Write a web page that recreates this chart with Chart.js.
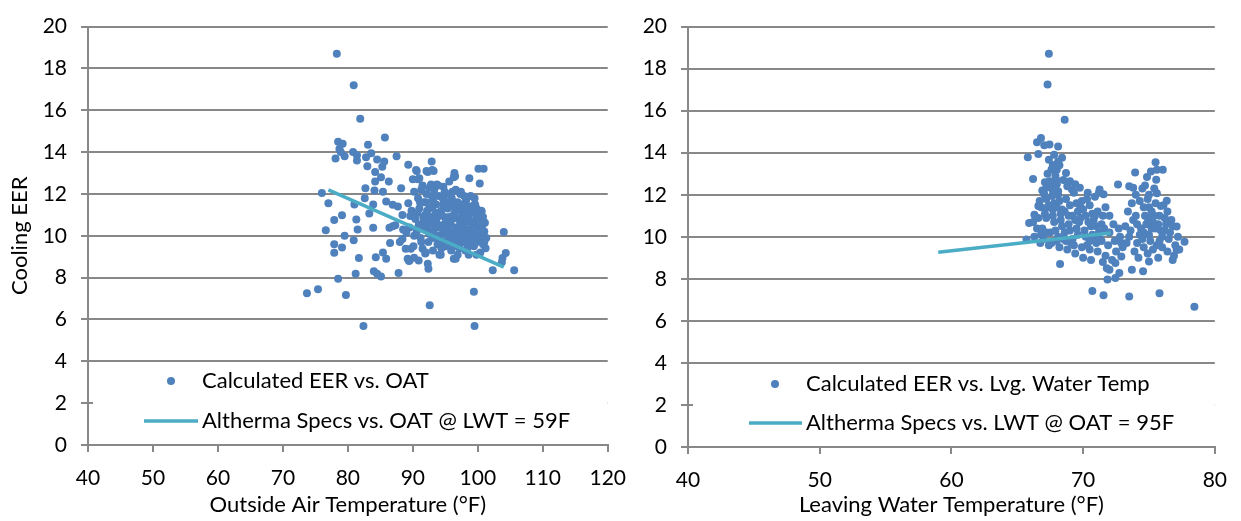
<!DOCTYPE html>
<html>
<head>
<meta charset="utf-8">
<script src="https://cdn.jsdelivr.net/npm/chart.js@4.4.0/dist/chart.umd.min.js"></script>
<style>
  html, body { margin: 0; padding: 0; background: #fff; }
  #wrap { position: relative; width: 1241px; height: 521px; overflow: hidden; }
  canvas { position: absolute; top: 0; }
</style>
</head>
<body>
<div id="wrap">
  <canvas id="oatChart" width="640" height="521" style="left:0"></canvas>
  <canvas id="lwtChart" width="621" height="521" style="left:620px"></canvas>
</div>
<script>
// measured EER against outside air temperature (°F)
const oatPoints = [
  [78.3,18.7],[80.9,17.2],[81.9,15.6],[85.7,14.7],[78.5,14.5],[79.2,14.4],[78.7,14.15],[78.9,14.0],[78.1,13.7],[79.5,13.8],
  [80.8,14.0],[81.4,13.85],[81.4,13.6],[83.1,14.35],[83.6,13.95],[82.8,13.75],[83.0,13.33],[84.5,13.65],[84.2,13.05],[85.6,13.55],
  [85.3,13.3],[87.5,13.8],[89.3,13.4],[90.6,13.1],[92.9,13.55],[93.2,13.1],[92.3,13.05],[85.1,12.8],[84.2,12.6],[86.3,12.6],
  [90.0,12.7],[91.0,12.75],[96.4,13.0],[96.5,12.85],[98.7,12.75],[100.1,13.2],[100.9,13.2],[100.3,12.5],[94.7,12.35],[95.6,12.6],
  [76.0,12.05],[77.0,11.56],[82.7,12.27],[84.1,12.17],[85.4,12.1],[88.2,12.27],[82.6,11.8],[81.0,11.5],[83.9,11.5],[83.3,11.07],
  [85.9,11.64],[86.9,11.48],[87.7,11.4],[88.4,11.0],[79.1,10.98],[77.9,10.75],[81.3,10.78],[81.5,10.3],[83.9,10.38],[86.4,10.38],
  [86.9,10.46],[76.6,10.26],[79.5,10.0],[80.9,9.79],[86.5,9.66],[77.9,9.6],[79.1,9.44],[77.9,9.19],[81.7,8.94],[84.3,8.97],
  [85.4,9.2],[85.9,8.9],[89.2,8.9],[89.5,8.82],[90.9,8.82],[92.3,8.66],[92.4,8.42],[94.3,9.1],[96.6,8.9],[87.8,8.22],
  [84.0,8.3],[84.5,8.19],[85.1,8.06],[81.2,8.19],[78.5,7.95],[102.3,8.35],[105.6,8.35],[104.0,10.18],[104.3,9.18],[103.8,8.94],
  [103.7,8.74],[73.7,7.25],[75.4,7.44],[79.7,7.17],[99.4,7.33],[92.6,6.68],[82.4,5.69],[99.5,5.69],[99.5,11.48],[100.6,11.17],
  [101.1,10.62],[99.8,10.85],[90.5,13.15],[92.1,13.1],[93.0,13.15],[96.3,12.8],[90.8,12.7],[91.5,12.35],[92.8,12.45],[93.7,12.45],
  [97.4,12.1],[96.1,12.1],[100.5,11.2],[100.9,10.65],[100.2,10.95],[96.3,8.9],[94.1,9.1],[89.4,8.8],[90.2,8.95],[91.9,9.15],
  [91.5,9.38],[89.7,9.38],[88.9,9.38],[88.4,9.85],[89.0,10.16],[90.2,10.0],[89.6,10.95],[89.3,11.55],[88.5,10.3],[87.3,10.5],
  [88.0,9.7],
  [90.2,12.1],[90.8,11.8],[91.3,12.2],[91.7,11.6],[92.1,12.0],[92.5,11.3],[92.9,11.9],[93.3,12.2],[93.6,11.5],[94.0,11.9],
  [94.4,11.2],[94.8,11.7],[95.2,12.0],[95.6,11.4],[96.0,11.8],[96.5,11.1],[96.9,11.6],[97.3,12.0],[97.8,11.3],[98.2,11.7],
  [98.6,11.0],[99.0,11.4],[99.5,11.8],[100.0,11.0],[89.8,11.2],[90.4,10.8],[91.0,11.3],[91.5,10.6],[91.9,11.0],[92.3,10.4],
  [92.8,10.9],[93.2,10.2],[93.6,10.7],[94.1,10.0],[94.5,10.5],[94.9,10.9],[95.3,10.2],[95.8,10.6],[96.2,10.0],[96.6,10.4],
  [97.0,10.8],[97.5,10.1],[97.9,10.5],[98.3,9.8],[98.7,10.3],[99.1,10.7],[99.6,10.0],[100.1,10.4],[100.5,9.8],[101.0,10.2],
  [90.6,10.2],[91.2,9.9],[91.8,10.3],[92.4,9.7],[93.0,9.9],[93.8,9.6],[94.3,9.8],[95.0,9.5],[95.5,9.9],[96.1,9.6],
  [96.8,9.8],[97.2,9.4],[97.7,9.7],[98.1,9.3],[98.5,9.6],[99.0,9.9],[99.4,9.5],[99.9,9.7],[100.4,9.2],[100.8,9.6],
  [101.2,9.4],[92.0,11.6],[93.0,11.4],[94.2,11.0],[95.4,11.3],[96.3,11.0],[97.4,11.2],[98.4,10.7],[99.3,11.1],[100.3,10.7],
  [100.8,10.9],[91.5,12.4],[92.6,12.3],[93.9,12.4],[94.9,12.1],[96.6,12.2],[97.6,11.5],[98.9,11.9],[99.8,11.3],[93.4,10.5],
  [94.6,10.3],[95.1,10.7],[96.4,10.2],[97.1,10.4],[98.0,10.0],[98.8,10.1],[99.7,10.6],[100.2,10.0],[100.7,10.5],[101.3,9.9],
  [95.7,11.6],[96.7,11.3],[97.9,11.9],[98.5,11.4],[99.2,10.5],[94.7,11.5],[93.5,11.1],[92.7,10.6],[91.6,10.9],[90.9,10.5],
  [95.9,9.3],[96.9,9.1],[98.6,9.1],[99.8,9.1],[94.4,9.4],[93.1,9.3],[92.0,9.2],[91.3,9.7],[90.1,9.5],[89.5,10.4],
  [97.3,10.6],[98.2,10.8],[99.5,10.3],[100.6,10.1],[101.0,9.7],[95.0,10.1],[96.0,10.8],[97.6,9.9],[98.9,9.7],[99.9,10.9],
  [92.2,11.2],[93.8,10.9],[95.6,10.9],[97.7,11.0],[99.6,11.5],[98.0,10.3],[96.9,10.1],[95.4,10.4],[94.0,10.4],[92.5,10.1],
  [93.7,9.9],[95.8,9.8],[97.0,9.6],[99.3,9.8],[100.9,10.0],[98.4,9.4],[96.4,9.5],[94.8,9.7],[93.5,10.8],[91.8,10.7],
  [97.8,10.8],[99.0,10.2],[100.4,10.6],[98.7,11.2],[96.2,11.4],[94.6,11.8],[93.1,11.7],[91.1,11.6],[90.7,11.1],[95.2,11.6]
];

// spec line, EER vs OAT at LWT = 59F
const oatSpec = [[77.0,12.2],[104.0,8.5]];

// measured EER against leaving water temperature (°F)
const lwtPoints = [
  [67.4,18.71],[67.3,17.24],[68.6,15.57],[65.8,13.78],[66.2,12.75],[66.8,14.7],[66.5,14.5],[66.6,13.94],[67.05,14.36],[67.45,14.39],
  [68.1,14.3],[68.4,13.76],[67.8,13.9],[67.4,13.66],[67.7,13.42],[68.0,13.19],[68.1,13.58],[68.7,13.03],[69.0,12.64],[67.45,12.64],
  [67.95,12.72],[67.2,12.33],[67.05,12.02],[67.65,11.94],[68.1,12.17],[69.15,12.25],[69.75,12.33],[70.35,12.1],[71.25,12.25],[71.55,12.02],
  [72.65,12.49],[73.5,12.41],[73.8,12.33],[73.95,13.06],[74.7,12.44],[74.85,12.85],[75.15,13.11],[75.5,13.55],[75.6,13.19],[76.05,13.19],
  [75.55,12.72],[75.6,12.07],[76.35,11.71],[75.9,11.47],[77.1,10.49],[77.7,9.76],[77.1,9.37],[76.8,8.9],[78.45,6.67],[75.8,7.31],
  [73.5,7.16],[71.55,7.22],[70.7,7.42],[73.7,8.43],[74.55,8.36],[75.0,8.82],[68.25,8.71],[65.9,10.66],[66.3,11.05],[66.6,11.47],
  [65.7,9.87],[66.75,9.71],[71.85,7.97],[72.45,8.04],[72.75,8.28],[72.0,8.43],[72.45,8.75],[72.9,9.06],
  [66.9,12.2],[67.2,11.8],[67.5,12.4],[67.8,11.6],[68.1,12.0],[68.4,11.3],[68.7,11.8],[69.0,11.5],[69.3,12.1],[69.6,11.2],
  [69.9,11.7],[70.2,11.0],[70.5,11.5],[70.8,10.8],[71.1,11.2],[71.4,10.6],[66.6,10.9],[66.9,10.4],[67.2,10.9],[67.5,10.2],
  [67.8,10.7],[68.1,10.0],[68.4,10.5],[68.7,9.8],[69.0,10.3],[69.3,9.6],[69.6,10.1],[69.9,9.5],[70.2,10.0],[70.5,9.4],
  [70.8,9.9],[71.1,9.3],[71.4,9.8],[71.7,9.1],[66.8,11.4],[67.1,11.1],[67.4,11.5],[67.7,11.0],[68.0,11.4],[68.3,10.8],
  [68.6,11.2],[68.9,10.6],[69.2,11.0],[69.5,10.4],[69.8,10.9],[70.1,10.3],[70.4,10.7],[70.7,10.1],[71.0,10.5],[71.3,9.9],
  [71.6,10.4],[67.0,9.9],[67.6,9.7],[68.2,9.5],[68.8,9.4],[69.4,9.2],[70.0,9.0],[70.6,8.9],[71.5,8.8],[71.8,8.5],
  [72.2,8.9],[72.5,9.3],[67.6,13.2],[67.9,12.9],[68.2,13.4],[67.3,13.0],[68.0,12.5],[67.7,12.2],[68.5,12.7],[67.1,12.6],
  [68.8,12.4],[69.4,12.5],[69.8,11.4],[70.3,11.8],[70.9,11.9],[71.2,12.1],[71.7,11.4],[72.0,11.0],[72.3,10.6],[72.0,10.2],
  [71.9,9.6],[72.4,9.8],[72.7,10.4],[72.9,9.7],[66.3,10.0],[66.5,10.4],[66.2,10.7],[66.7,11.7],[67.4,9.6],[68.5,9.9],
  [69.1,9.7],[70.3,9.6],[71.0,9.7],[70.6,10.5],[69.7,10.7],[68.9,11.0],[68.2,11.7],[67.3,11.4],[66.8,10.1],
  [67.9,10.3],[68.6,10.2],[69.4,10.8],[70.0,11.3],[70.9,11.0],[69.2,9.9],[70.5,9.8],[71.2,10.2],[67.7,11.3],[68.3,11.1],
  [69.5,11.6],[70.7,11.1],[71.5,11.0],[68.0,9.8],[67.2,10.2],
  [73.2,10.5],[73.5,10.0],[73.8,10.8],[74.1,9.7],[74.4,10.4],[74.7,11.0],[75.0,10.1],[75.3,10.7],[75.6,9.6],[75.9,10.3],
  [76.2,10.9],[76.5,9.9],[76.8,10.5],[77.0,9.6],[73.4,11.2],[73.7,11.6],[74.0,11.0],[74.3,11.7],[74.6,11.4],[74.9,11.8],
  [75.2,11.2],[75.5,11.6],[75.8,11.0],[76.1,11.5],[76.4,11.2],[76.7,10.8],[73.9,9.3],[74.2,9.0],[74.6,9.5],[74.9,9.2],
  [75.3,9.4],[75.7,9.0],[76.0,9.5],[76.4,9.3],[76.9,9.1],[73.3,9.7],[73.0,9.5],[72.8,10.0],[74.0,12.0],[74.5,12.3],
  [75.0,12.0],[75.4,12.3],[74.8,10.6],[75.5,10.4],[76.0,10.0],[76.3,10.6],[74.3,10.1],[73.6,10.3],[75.1,9.8],[74.5,9.9],
  [76.6,10.2],[77.2,10.0],[77.3,9.4],
  [74.9,10.9],[75.4,11.0],[75.7,10.6],[76.2,10.3],[74.6,10.2],[75.2,10.4],[74.1,10.6],[75.8,9.8],[76.5,10.7],[75.0,11.4]
];

// spec line, EER vs LWT at OAT = 95F
const lwtSpec = [[59.0,9.26],[72.1,10.18]];

const eerTicks = [0, 2, 4, 6, 8, 10, 12, 14, 16, 18, 20];
const oatTicks = [40, 50, 60, 70, 80, 90, 100, 110, 120];
const lwtTicks = [40, 50, 60, 70, 80];

const DOT = '#4f81bd';
const SPEC = '#4bacc6';
const GRID = '#888888';
const FONT = 'Lato, "Open Sans", sans-serif';

const toXY = arr => arr.map(p => ({ x: p[0], y: p[1] }));

// legend drawn inside the plot, on a white panel over the lower gridlines
const insideLegend = {
  id: 'insideLegend',
  afterDatasetsDraw(chart, args, o) {
    const { ctx, chartArea } = chart;
    ctx.save();
    ctx.fillStyle = '#fff';
    ctx.fillRect(chartArea.left + 5, o.top, chartArea.right - chartArea.left - 5, o.bottom - o.top);

    ctx.fillStyle = DOT;
    ctx.beginPath();
    ctx.arc(o.dotX, o.row1, 4, 0, Math.PI * 2);
    ctx.fill();

    ctx.strokeStyle = SPEC;
    ctx.lineWidth = 3.5;
    ctx.beginPath();
    ctx.moveTo(o.lineX0, o.row2);
    ctx.lineTo(o.lineX1, o.row2);
    ctx.stroke();

    ctx.fillStyle = '#000';
    ctx.font = '22px ' + FONT;
    ctx.textBaseline = 'middle';
    ctx.fillText(o.labels[0], o.textX, o.row1);
    ctx.fillText(o.labels[1], o.textX, o.row2);
    ctx.restore();
  }
};

function makeChart(id, cfg) {
  return new Chart(document.getElementById(id), {
    type: 'scatter',
    data: {
      datasets: [
        {
          label: cfg.labels[1],
          data: toXY(cfg.spec),
          showLine: true,
          borderColor: SPEC,
          borderWidth: 3.5,
          pointRadius: 0,
          order: 0
        },
        {
          label: cfg.labels[0],
          data: toXY(cfg.points),
          backgroundColor: DOT,
          borderColor: DOT,
          borderWidth: 0,
          pointRadius: 4,
          order: 1
        }
      ]
    },
    options: {
      responsive: false,
      animation: false,
      layout: { padding: { top: 19, right: cfg.padRight, bottom: 0, left: 0 } },
      plugins: {
        legend: { display: false },
        tooltip: { enabled: false },
        insideLegend: cfg.legend
      },
      scales: {
        x: {
          type: 'linear',
          min: cfg.xTicks[0],
          max: cfg.xTicks[cfg.xTicks.length - 1],
          afterBuildTicks: s => { s.ticks = cfg.xTicks.map(v => ({ value: v })); },
          afterFit: s => { s.height = cfg.xHeight; },
          border: { display: true, color: GRID, width: 2 },
          grid: { drawOnChartArea: false, drawTicks: true, tickLength: 7, color: GRID, lineWidth: 2 },
          ticks: { color: '#000', font: { family: FONT, size: 21 }, padding: 14, maxRotation: 0 },
          title: {
            display: true,
            text: cfg.xTitle,
            color: '#000',
            font: { family: FONT, size: 22 },
            padding: { top: 0, bottom: 3 }
          }
        },
        y: {
          type: 'linear',
          min: 0,
          max: 20,
          afterBuildTicks: s => { s.ticks = eerTicks.map(v => ({ value: v })); },
          afterFit: s => { s.width = cfg.yWidth; },
          border: { display: true, color: GRID, width: 2 },
          grid: { color: GRID, lineWidth: 2, tickLength: 7 },
          ticks: { color: '#000', font: { family: FONT, size: 21 }, padding: 14 },
          title: {
            display: !!cfg.yTitle,
            text: cfg.yTitle,
            color: '#000',
            font: { family: FONT, size: 22 },
            padding: { top: 7, bottom: 0 }
          }
        }
      }
    },
    plugins: [insideLegend]
  });
}

makeChart('oatChart', {
  points: oatPoints,
  spec: oatSpec,
  xTicks: oatTicks,
  labels: ['Calculated EER vs. OAT', 'Altherma Specs vs. OAT @ LWT = 59F'],
  xTitle: 'Outside Air Temperature (°F)',
  yTitle: 'Cooling EER',
  yWidth: 88,
  xHeight: 76,
  padRight: 29,
  legend: { top: 364, bottom: 441, dotX: 171, row1: 381, row2: 421, lineX0: 144, lineX1: 198, textX: 202,
            labels: ['Calculated EER vs. OAT', 'Altherma Specs vs. OAT @ LWT = 59F'] }
});

makeChart('lwtChart', {
  points: lwtPoints,
  spec: lwtSpec,
  xTicks: lwtTicks,
  labels: ['Calculated EER vs. Lvg. Water Temp', 'Altherma Specs vs. LWT @ OAT = 95F'],
  xTitle: 'Leaving Water Temperature (°F)',
  yTitle: '',
  yWidth: 68,
  xHeight: 74,
  padRight: 24,
  legend: { top: 366, bottom: 443, dotX: 155, row1: 384, row2: 423, lineX0: 129, lineX1: 182, textX: 186,
            labels: ['Calculated EER vs. Lvg. Water Temp', 'Altherma Specs vs. LWT @ OAT = 95F'] }
});
</script>
</body>
</html>
